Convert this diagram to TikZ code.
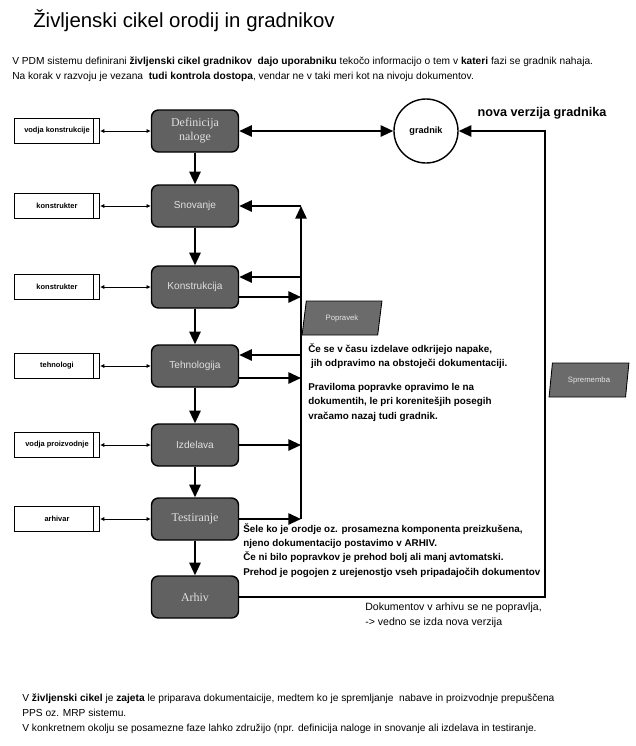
\documentclass[tikz,border=0pt]{standalone}
\usepackage{fontspec}
\setmainfont{Liberation Sans}
\newfontfamily\timesface{Liberation Serif}
\usetikzlibrary{arrows.meta,shapes.geometric}
\tikzset{
  phase/.style={draw=black, line width=1pt, fill=black!62, text=black!12, rounded corners=5pt, minimum width=2.175cm, minimum height=1.05cm, font=\fontsize{7.2}{10}\selectfont, align=center, inner sep=1pt},
  rolebox/.style={draw=black, line width=0.8pt, fill=white, minimum width=2.125cm, minimum height=0.625cm, font=\bfseries\fontsize{5.3}{6}\selectfont, path picture={\draw[line width=0.8pt] ([xshift=-0.15cm]path picture bounding box.north east) -- ([xshift=-0.15cm]path picture bounding box.south east);}},
  part/.style={draw=black, line width=1pt, circle, minimum size=1.6cm, inner sep=0pt, font=\bfseries\fontsize{6.5}{7}\selectfont},
  change/.style={trapezium, trapezium left angle=75, trapezium right angle=105, trapezium stretches=true, draw=black, line width=0.6pt, fill=black!58, text=black!10, minimum width=2cm, minimum height=0.85cm, inner sep=0pt, font=\fontsize{5.5}{6}\selectfont},
  flow/.style={line width=1.4pt, -{Triangle[length=9pt,width=8pt]}},
  link/.style={line width=0.6pt, {Latex[length=3pt,width=3pt]}-{Latex[length=3pt,width=3pt]}},
  note/.style={anchor=base west, align=left, inner sep=0pt, font=\bfseries\fontsize{7}{10}\selectfont},
  plain/.style={anchor=base west, align=left, inner sep=0pt, font=\fontsize{7.25}{10.5}\selectfont},
}

\begin{document}
\begin{tikzpicture}[x=0.025cm, y=-0.025cm]
\useasboundingbox (0,0) rectangle (636,746);
\node[anchor=base west, inner sep=0pt, font=\fontsize{14.5}{16}\selectfont] (title) at (33,27) {Življenski cikel orodij in gradnikov};
\node[plain] (intro) at (12,79) {V PDM sistemu definirani \textbf{življenski cikel gradnikov}\ \ \textbf{dajo uporabniku} tekočo informacijo o tem v \textbf{kateri} fazi se gradnik nahaja.\\
Na korak v razvoju je vezana\ \ \textbf{tudi kontrola dostopa}, vendar ne v taki meri kot na nivoju dokumentov.};

\node[phase, font=\fontsize{8.5}{10}\selectfont] (def) at (195,131) {\timesface Definicija\\\timesface naloge};
\node[phase] (snov) at (195,206) {Snovanje};
\node[phase] (konst) at (195,287) {Konstrukcija};
\node[phase] (tehn) at (195,366) {Tehnologija};
\node[phase] (izd) at (195,445) {Izdelava};
\node[phase, font=\fontsize{8.5}{10}\selectfont] (test) at (195,519) {\timesface Testiranje};
\node[phase, font=\fontsize{8.5}{10}\selectfont] (arh) at (195,597) {\timesface Arhiv};

\node[rolebox] (vk) at (57,131) {vodja konstrukcije};
\node[rolebox] (k1) at (57,206) {konstrukter};
\node[rolebox] (k2) at (57,287) {konstrukter};
\node[rolebox] (teh) at (57,366) {tehnologi};
\node[rolebox] (vp) at (57,445) {vodja proizvodnje};
\node[rolebox] (arv) at (57,519) {arhivar};

\node[part] (gradnik) at (426,131) {gradnik};
\node[font=\bfseries\fontsize{9}{10}\selectfont] (nova) at (542,113) {nova verzija gradnika};
\node[change] (popravek) at (342,318) {Popravek};
\node[change] (sprememba) at (589,380) {Sprememba};

\coordinate (bustop) at (301,206);
\coordinate (kin) at (301,277);
\coordinate (kout) at (301,297);
\coordinate (tin) at (301,355);
\coordinate (tout) at (301,378);
\coordinate (iout) at (301,445);
\coordinate (busbot) at (301,519);
\coordinate (loopbot) at (545,597);
\coordinate (looptop) at (545,131);

\draw[link] (vk) -- (def);
\draw[link] (k1) -- (snov);
\draw[link] (k2) -- (konst);
\draw[link] (teh) -- (tehn);
\draw[link] (vp) -- (izd);
\draw[link] (arv) -- (test);

\draw[flow] (def) -- (snov);
\draw[flow] (snov) -- (konst);
\draw[flow] (konst) -- (tehn);
\draw[flow] (tehn) -- (izd);
\draw[flow] (izd) -- (test);
\draw[flow] (test) -- (arh);
\draw[flow, {Triangle[length=9pt,width=8pt]}-{Triangle[length=9pt,width=8pt]}] (def) -- (gradnik);

\draw[flow] (test) -- (busbot);
\draw[flow, -] (busbot) -- (kout);
\draw[flow] (kout) -- (bustop);
\draw[flow] (bustop) -- (snov);
\draw[flow] (kin) -- (kin -| konst.east);
\draw[flow] (kout -| konst.east) -- (kout);
\draw[flow] (tin) -- (tin -| tehn.east);
\draw[flow] (tout -| tehn.east) -- (tout);
\draw[flow] (iout -| izd.east) -- (iout);
\draw[flow] (arh) -- (loopbot) -- (looptop) -- (gradnik);

\node[note] (napake) at (308,419) {Če se v času izdelave odkrijejo napake,\\
\ jih odpravimo na obstoječi dokumentaciji.\\[7.5pt]
Praviloma popravke opravimo le na\\
dokumentih, le pri korenitešjih posegih\\
vračamo nazaj tudi gradnik.};
\node[note] (sele) at (243,575) {Šele ko je orodje oz. prosamezna komponenta preizkušena,\\
njeno dokumentacijo postavimo v ARHIV.\\
Če ni bilo popravkov je prehod bolj ali manj avtomatski.\\
Prehod je pogojen z urejenostjo vseh pripadajočih dokumentov};
\node[anchor=base west, align=left, inner sep=0pt, font=\fontsize{7.5}{10}\selectfont] (arhnote) at (365,625) {Dokumentov v arhivu se ne popravlja,\\
-> vedno se izda nova verzija};
\node[plain] (outro) at (22,731) {V \textbf{življenski cikel} je \textbf{zajeta} le priparava dokumentaicije, medtem ko je spremljanje\ \ nabave in proizvodnje prepuščena\\
PPS oz. MRP sistemu.\\
V konkretnem okolju se posamezne faze lahko združijo (npr. definicija naloge in snovanje ali izdelava in testiranje.};
\end{tikzpicture}
\end{document}
